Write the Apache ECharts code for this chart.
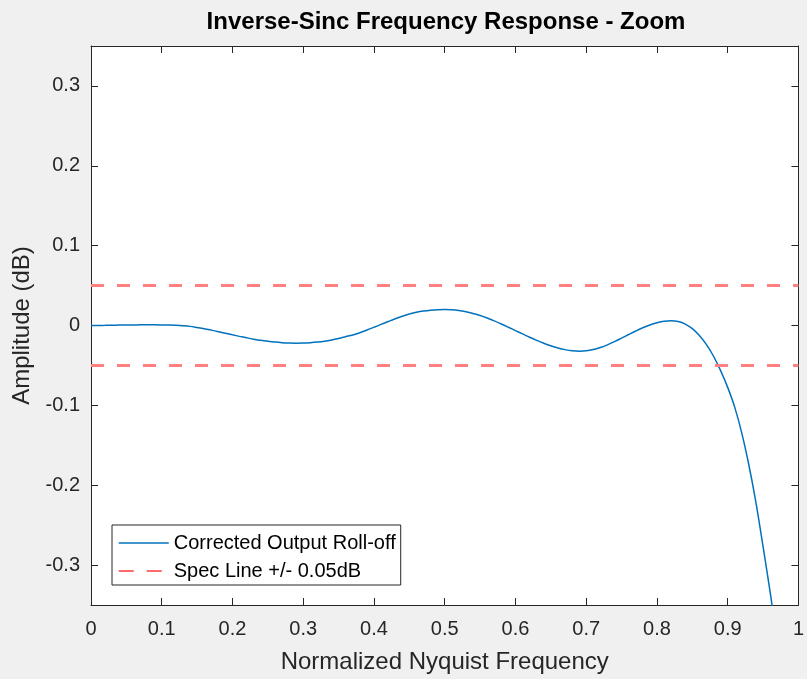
<!DOCTYPE html>
<html>
<head>
<meta charset="utf-8">
<script src="https://cdn.jsdelivr.net/npm/echarts@6/dist/echarts.min.js"></script>
<style>
html,body{margin:0;padding:0;background:#f0f0f0;}
#chart{width:807px;height:679px;}
</style>
</head>
<body>
<div id="chart"></div>
<script>
const freq = [
  0.00,0.01,0.02,0.03,0.04,0.05,0.06,0.07,0.08,0.09,
  0.10,0.11,0.12,0.13,0.14,0.15,0.16,0.17,0.18,0.19,
  0.20,0.21,0.22,0.23,0.24,0.25,0.26,0.27,0.28,0.29,
  0.30,0.31,0.32,0.33,0.34,0.35,0.36,0.37,0.38,0.39,
  0.40,0.41,0.42,0.43,0.44,0.45,0.46,0.47,0.48,0.49,
  0.50,0.51,0.52,0.53,0.54,0.55,0.56,0.57,0.58,0.59,
  0.60,0.61,0.62,0.63,0.64,0.65,0.66,0.67,0.68,0.69,
  0.70,0.71,0.72,0.73,0.74,0.75,0.76,0.77,0.78,0.79,
  0.80,0.81,0.82,0.83,0.84,0.85,0.86,0.87,0.88,0.89,
  0.90,0.91,0.92,0.93,0.94,0.95,0.96,0.97
];
const amplitude = [
  0.0000,0.0001,0.0002,0.0004,0.0005,0.0006,0.0007,0.0008,0.0008,0.0008,
  0.0007,0.0005,0.0002,-0.0003,-0.0011,-0.0025,-0.0040,-0.0058,-0.0077,-0.0097,
  -0.0117,-0.0136,-0.0154,-0.0171,-0.0186,-0.0198,-0.0208,-0.0215,-0.0219,-0.0221,
  -0.0220,-0.0215,-0.0207,-0.0196,-0.0181,-0.0162,-0.0140,-0.0118,-0.0090,-0.0057,
  -0.0022,0.0014,0.0050,0.0085,0.0116,0.0143,0.0165,0.0181,0.0192,0.0198,
  0.0200,0.0197,0.0187,0.0171,0.0150,0.0125,0.0094,0.0058,0.0019,-0.0022,
  -0.0064,-0.0105,-0.0147,-0.0186,-0.0222,-0.0254,-0.0281,-0.0302,-0.0316,-0.0322,
  -0.0317,-0.0301,-0.0275,-0.0242,-0.0202,-0.0158,-0.0113,-0.0069,-0.0028,0.0007,
  0.0034,0.0053,0.0060,0.0050,0.0018,-0.0040,-0.0125,-0.0240,-0.0385,-0.0565,
  -0.0775,-0.1025,-0.1350,-0.1750,-0.2220,-0.2770,-0.3340,-0.3950
];
const specFreq = [0, 1];
const specLevels = [0.05, -0.05];
const yTickValues = [-0.3, -0.2, -0.1, 0, 0.1, 0.2, 0.3];

const FONT = '"Liberation Sans", Arial, Helvetica, sans-serif';
const AX = '#262626';
const curveName = 'Corrected Output Roll-off';
const specName = 'Spec Line +/- 0.05dB';

const chart = echarts.init(document.getElementById('chart'), null, {renderer: 'canvas'});

const axisLine = {show: true, onZero: false, lineStyle: {color: AX, width: 1}};
const axisTick = {show: true, inside: true, length: 7, lineStyle: {color: AX, width: 1}};

const series = [{
  type: 'line',
  name: curveName,
  data: freq.map((f, i) => [f, amplitude[i]]),
  symbol: 'none',
  showSymbol: false,
  smooth: 0.35,
  clip: true,
  lineStyle: {color: '#0072BD', width: 1.5},
  itemStyle: {color: '#0072BD'},
  z: 3
}];
specLevels.forEach(level => {
  series.push({
    type: 'line',
    name: specName,
    data: specFreq.map(f => [f, level]),
    symbol: 'none',
    showSymbol: false,
    clip: true,
    lineStyle: {color: '#ff8080', width: 3, type: [13, 13]},
    itemStyle: {color: '#ff8080'},
    z: 4
  });
});

chart.setOption({
  backgroundColor: '#f0f0f0',
  animation: false,
  textStyle: {fontFamily: FONT},
  title: {
    text: 'Inverse-Sinc Frequency Response - Zoom',
    left: 446,
    top: 10,
    textAlign: 'center',
    padding: 0,
    textStyle: {fontFamily: FONT, fontSize: 24, fontWeight: 'bold', color: '#000'}
  },
  grid: {
    left: 91, right: 6, top: 46, bottom: 73,
    show: true, backgroundColor: '#ffffff', borderWidth: 0,
    containLabel: false
  },
  legend: {
    orient: 'vertical',
    left: 112,
    top: 525,
    itemWidth: 50,
    itemHeight: 14,
    itemGap: 8,
    padding: [8, 5, 4, 6],
    backgroundColor: '#ffffff',
    borderColor: AX,
    borderWidth: 1,
    borderRadius: 0,
    selectedMode: false,
    itemStyle: {opacity: 0},
    textStyle: {fontFamily: FONT, fontSize: 20, color: '#000', padding: [0, 0, 0, 0]},
    data: [
      {name: curveName, itemStyle: {opacity: 0}, lineStyle: {color: '#0072BD', width: 1.5}},
      {name: specName, itemStyle: {opacity: 0}, lineStyle: {color: '#ff3b3b', width: 1.5, type: [15, 13]}}
    ]
  },
  xAxis: [{
    type: 'value', position: 'bottom', min: 0, max: 1, interval: 0.1,
    axisLine, axisTick,
    axisLabel: {color: AX, fontFamily: FONT, fontSize: 20, margin: 14},
    splitLine: {show: false},
    name: 'Normalized Nyquist Frequency',
    nameLocation: 'middle', nameGap: 45,
    nameTextStyle: {fontFamily: FONT, fontSize: 24, color: AX}
  }, {
    type: 'value', position: 'top', min: 0, max: 1, interval: 0.1,
    axisLine, axisTick,
    axisLabel: {show: false},
    splitLine: {show: false}
  }],
  yAxis: [{
    type: 'value', position: 'left', min: -0.35, max: 0.35,
    axisLine,
    axisTick: Object.assign({}, axisTick, {customValues: yTickValues}),
    axisLabel: {color: AX, fontFamily: FONT, fontSize: 20, margin: 11, customValues: yTickValues},
    splitLine: {show: false},
    name: 'Amplitude (dB)',
    nameLocation: 'middle', nameGap: 56, nameRotate: 90,
    nameTextStyle: {fontFamily: FONT, fontSize: 24, color: AX}
  }, {
    type: 'value', position: 'right', min: -0.35, max: 0.35,
    axisLine,
    axisTick: Object.assign({}, axisTick, {customValues: yTickValues}),
    axisLabel: {show: false, customValues: yTickValues},
    splitLine: {show: false}
  }],
  series
});
</script>
</body>
</html>
